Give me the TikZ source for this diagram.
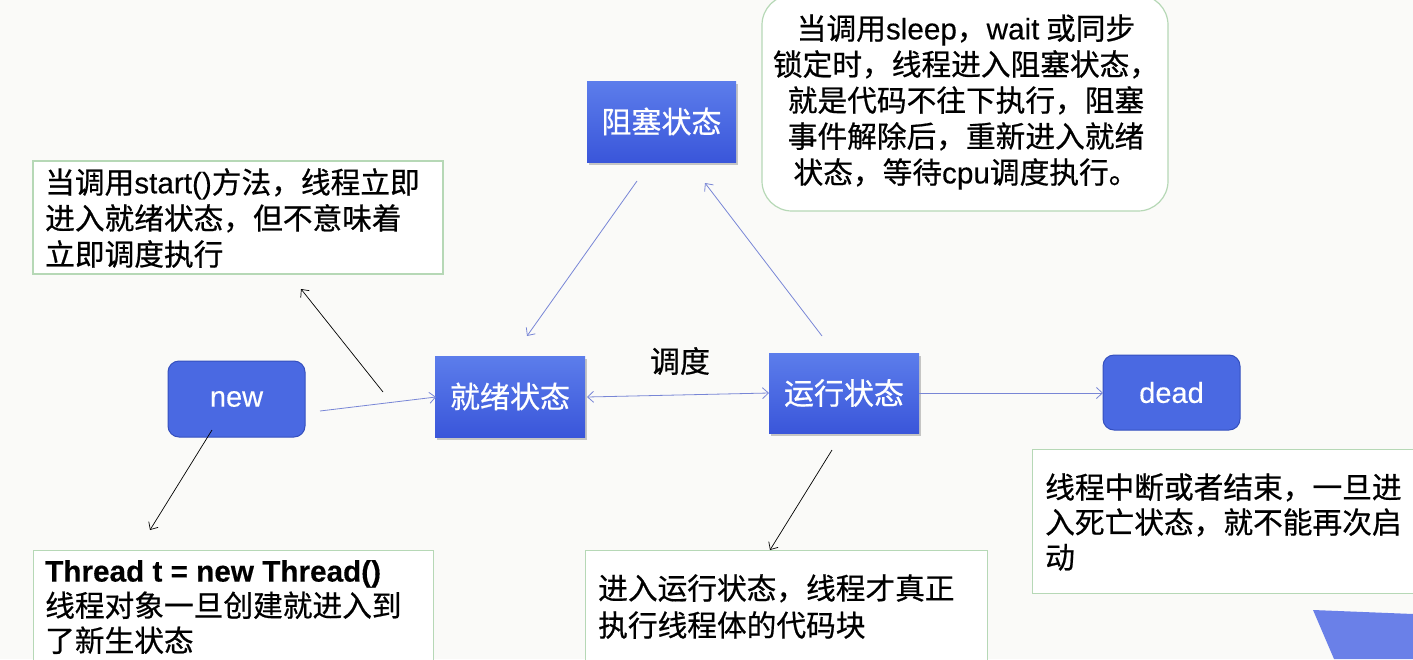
\documentclass[tikz,border=0pt]{standalone}
\usepackage{fontspec}
\setmainfont{Noto Sans CJK SC}[FakeBold=0.6]
\newfontfamily\lat{Liberation Sans}[FakeBold=0.3]
\usetikzlibrary{arrows.meta,shadows}
\definecolor{bg}{HTML}{FAFAF8}
\definecolor{sbtop}{HTML}{5C7DEB}
\definecolor{sbbot}{HTML}{3A56DA}
\definecolor{rndfill}{HTML}{4A69E2}
\definecolor{rnddraw}{HTML}{3550BE}
\definecolor{arrblue}{HTML}{7886D6}
\definecolor{notegreen}{HTML}{B6D8B6}
\definecolor{cornerblue}{HTML}{6A80E8}
\tikzset{
  statebox/.style={rectangle, draw=none, top color=sbtop, bottom color=sbbot,
    text=white, font=\fontsize{30}{36}\selectfont, inner sep=0pt,
    drop shadow={shadow xshift=2pt, shadow yshift=-3pt, opacity=0.3, fill=black!70}},
  roundbox/.style={rectangle, rounded corners=11pt, fill=rndfill, draw=rnddraw,
    line width=1pt, text=white, font=\lat\fontsize{29}{34}\selectfont, inner sep=0pt},
  notebox/.style={rectangle, draw=notegreen, line width=1.2pt, fill=white, inner sep=0pt},
  notetext/.style={align=left, inner sep=0pt, text=black},
  bluearr/.style={draw=arrblue, line width=0.8pt, -{Straight Barb[length=6pt,width=11pt]}},
  bluedbl/.style={draw=arrblue, line width=0.8pt, {Straight Barb[length=6pt,width=11pt]}-{Straight Barb[length=6pt,width=11pt]}},
  blackarr/.style={draw=black, line width=0.7pt, -{Straight Barb[length=6pt,width=11pt]}}
}
\begin{document}
\begin{tikzpicture}[x=1pt,y=-1pt]
\fill[bg] (0,0) rectangle (1413,659);
\useasboundingbox (0,0) rectangle (1413,659);

% decorative corner shape
\fill[cornerblue] (1313,610) -- (1413,614) -- (1413,659) -- (1334,659) -- cycle;

% note boxes
\node[notebox, rounded corners=30pt, minimum width=406pt, minimum height=216pt] (nblk) at (965,103) {};
\node[notebox, minimum width=410pt, minimum height=113pt] (nstart) at (238,217.5) {};
\node[notebox, minimum width=400pt, minimum height=130pt, anchor=north west] (nthread) at (33,550) {};
\node[notebox, minimum width=402pt, minimum height=130pt, anchor=north west] (nrun) at (585,550) {};
\node[notebox, minimum width=400pt, minimum height=144pt, anchor=north west] (ndead) at (1032,449) {};

% note texts
\node[notetext, font=\fontsize{29.7}{36}\selectfont, anchor=west] (tstart) at (45,218)
  {当调用{\lat start()}方法，线程立即\\进入就绪状态，但不意味着\\立即调度执行};
\node[align=center, inner sep=0pt, font=\fontsize{29.7}{36}\selectfont] (tblk) at (966,102)
  {当调用{\lat sleep}，{\lat wait} 或同步\\锁定时，线程进入阻塞状态，\\就是代码不往下执行，阻塞\\事件解除后，重新进入就绪\\状态，等待{\lat cpu}调度执行。};
\node[notetext, font=\fontsize{29.7}{35}\selectfont, anchor=west] (tthread) at (45,607)
  {{\lat\bfseries Thread t = new Thread()}\\线程对象一旦创建就进入到\\了新生状态};
\node[notetext, font=\fontsize{29.7}{37}\selectfont, anchor=west] (trun) at (598,606.5)
  {进入运行状态，线程才真正\\执行线程体的代码块};
\node[notetext, font=\fontsize{29.7}{35}\selectfont, anchor=west] (tdead) at (1045,522)
  {线程中断或者结束，一旦进\\入死亡状态，就不能再次启\\动};

% state nodes
\node[statebox, minimum width=149pt, minimum height=81pt] (blk) at (661.5,121.5) {阻塞状态};
\node[statebox, minimum width=150pt, minimum height=81pt] (rdy) at (510,396.5) {就绪状态};
\node[statebox, minimum width=150pt, minimum height=80pt] (run) at (844,393) {运行状态};
\node[roundbox, minimum width=137pt, minimum height=76pt] (new) at (236.5,399) {new};
\node[roundbox, minimum width=137pt, minimum height=75pt] (dead) at (1171.5,392.5) {dead};

\node[inner sep=0pt, font=\fontsize{30}{36}\selectfont] (sched) at (680,361) {调度};

% connector end points
\coordinate (b1) at (637,181);   \coordinate (r1) at (527,336);
\coordinate (u1) at (822,336);   \coordinate (b2) at (705,183);
\coordinate (n1) at (320,411);   \coordinate (r2) at (436,397);
\coordinate (r3) at (587,397);   \coordinate (u2) at (769,393);
\coordinate (u3) at (919,393);   \coordinate (d1) at (1103,393);
\coordinate (k1) at (383,392);   \coordinate (s1) at (301,289);
\coordinate (n2) at (212,430);   \coordinate (th1) at (150,530);
\coordinate (u4) at (832,450);   \coordinate (ru1) at (770,550);

\draw[bluearr] (b1) -- (r1);
\draw[bluearr] (u1) -- (b2);
\draw[bluearr] (n1) -- (r2);
\draw[bluedbl] (r3) -- (u2);
\draw[bluearr] (u3) -- (d1);
\draw[blackarr] (k1) -- (s1);
\draw[blackarr] (n2) -- (th1);
\draw[blackarr] (u4) -- (ru1);
\end{tikzpicture}
\end{document}
